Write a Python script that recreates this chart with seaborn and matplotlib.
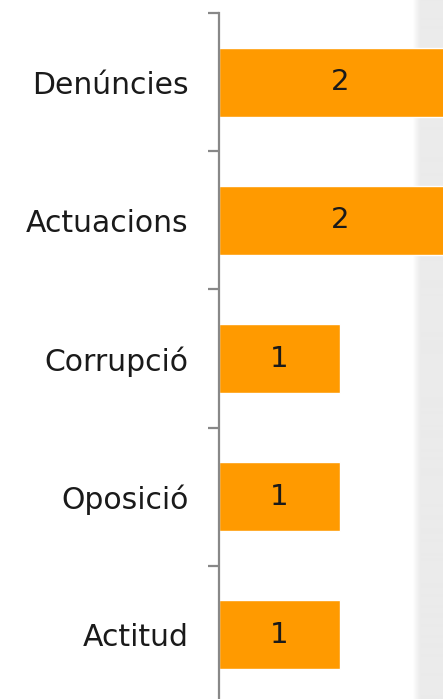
import numpy as np
import pandas as pd
import matplotlib
matplotlib.use("Agg")
import matplotlib.pyplot as plt
import seaborn as sns

# ============ DATA ============
categories = ["Denúncies", "Actuacions", "Corrupció", "Oposició", "Actitud"]
values = [2, 2, 1, 1, 1]

df = pd.DataFrame({"tema": categories, "n": values})

sns.set_theme(style="white")
plt.rcParams['font.family'] = ['DejaVu Sans']

W, H = 443, 699
fig = plt.figure(figsize=(W / 100, H / 100), dpi=100)
fig.patch.set_facecolor("white")

# grey shadow strip on the right edge
bg = fig.add_axes([413 / W, 0, (W - 413) / W, 1])
grad = np.linspace(0, 1, 60)
grad = np.clip(grad * 4, 0, 1) ** 0.8
bg.imshow(grad[np.newaxis, :], aspect="auto",
          cmap=matplotlib.colors.LinearSegmentedColormap.from_list("g", ["#ffffff", "#ebebeb"]),
          extent=[0, 1, 0, 1])
bg.axis("off")

ax = fig.add_axes([219 / W, -5 / H, (W - 219) / W, (699 - 13 + 5) / H])
ax.patch.set_alpha(0)

sns.barplot(data=df, x="n", y="tema", orient="h", color="#FF9A00",
            saturation=1, width=0.5, ax=ax)

ax.set_xlim(0, (W - 219) / 121)
ax.set_ylim(len(categories) - 0.5, -0.5)

for i, v in enumerate(values):
    ax.text(v / 2, i, str(v), ha="center", va="center", fontsize=21,
            color="#1a1a1a")

for s in ["top", "right", "bottom"]:
    ax.spines[s].set_visible(False)
ax.spines["left"].set_color("#888888")
ax.spines["left"].set_linewidth(1.6)

ax.set_xticks([])
ax.set_xlabel("")
ax.set_ylabel("")
ax.set_yticks(range(len(categories)))
ax.set_yticklabels(categories, fontsize=21.5, color="#1a1a1a")
ax.tick_params(axis="y", which="major", length=0, pad=22)
ax.set_yticks(np.arange(-0.5, len(categories), 1), minor=True)
ax.tick_params(axis="y", which="minor", length=8, width=1.6, color="#888888", left=True)

fig.savefig("out.png", dpi=100)
